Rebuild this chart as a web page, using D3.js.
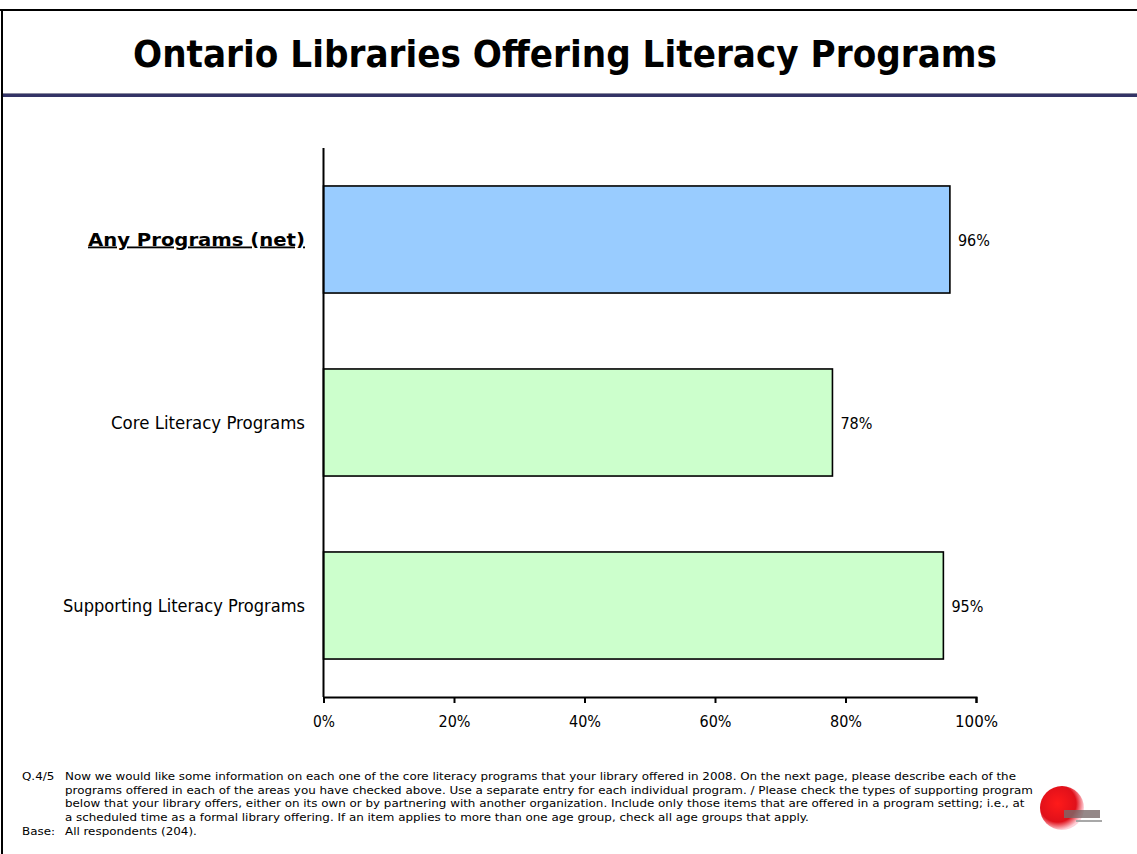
<!DOCTYPE html>
<html>
<head>
<meta charset="utf-8">
<script src="https://cdn.jsdelivr.net/npm/d3@7/dist/d3.min.js"></script>
<style>
  html, body { margin: 0; padding: 0; background: #ffffff; }
  svg { display: block; }
  text { font-family: "DejaVu Sans Condensed", "DejaVu Sans", Tahoma, sans-serif; fill: #000; }
</style>
</head>
<body>
<script>
const titleText = "Ontario Libraries Offering Literacy Programs";
const categories = ["Any Programs (net)", "Core Literacy Programs", "Supporting Literacy Programs"];
const values = [96, 78, 95];
const barColors = ["#99CCFF", "#CCFFCC", "#CCFFCC"];
const boldCategory = [true, false, false];
const tickValues = [0, 20, 40, 60, 80, 100];
const footLabel = "Q.4/5";
const footLines = [
  "Now we would like some information on each one of the core literacy programs that your library offered in 2008.  On the next page, please describe each of the",
  "programs offered in each of the areas you have checked above.  Use a separate entry for each individual program. / Please check the types of supporting program",
  "below that your library offers, either on its own or by partnering with another organization.  Include only those items that are offered in a program setting; i.e., at",
  "a scheduled time as a formal library offering.  If an item applies to more than one age group, check all age groups that apply."
];
const baseLabel = "Base:";
const baseText = "All respondents (204).";

const W = 1137, H = 854;
const svg = d3.select("body").append("svg").attr("width", W).attr("height", H);

function squeeze(sel, target) {
  sel.attr("textLength", target).attr("lengthAdjust", "spacingAndGlyphs");
}

// frame
svg.append("line").attr("x1", 0).attr("x2", W).attr("y1", 10).attr("y2", 10)
  .attr("stroke", "#000").attr("stroke-width", 2);
svg.append("line").attr("x1", 2).attr("x2", 2).attr("y1", 9).attr("y2", H)
  .attr("stroke", "#000").attr("stroke-width", 2);
svg.append("rect").attr("x", 3).attr("y", 93).attr("width", W - 3).attr("height", 1).attr("fill", "#8a8aa0");
svg.append("rect").attr("x", 3).attr("y", 94).attr("width", W - 3).attr("height", 3).attr("fill", "#333366");

// title
const title = svg.append("text").text(titleText)
  .attr("x", 133).attr("y", 67)
  .attr("font-weight", "bold").attr("font-size", 38);
squeeze(title, 864);

// chart
const x0 = 323.5, x1 = 976, yTop = 148, yBot = 697;
const x = d3.scaleLinear().domain([0, 100]).range([x0, x1]);
const y = d3.scaleBand().domain(categories).range([yTop, yBot]).paddingInner(0.415).paddingOuter(0.2075);

const g = svg.append("g");
g.selectAll("rect.bar").data(categories).join("rect").attr("class", "bar")
  .attr("x", x(0)).attr("y", d => y(d))
  .attr("width", (d, i) => x(values[i]) - x(0))
  .attr("height", y.bandwidth())
  .attr("fill", (d, i) => barColors[i])
  .attr("stroke", "#000").attr("stroke-width", 1.6);

// value labels
g.selectAll("text.val").data(categories).join("text").attr("class", "val")
  .attr("x", (d, i) => x(values[i]) + 8)
  .attr("y", d => y(d) + y.bandwidth() / 2 + 6)
  .attr("font-size", 15)
  .attr("textLength", 32).attr("lengthAdjust", "spacingAndGlyphs")
  .text((d, i) => values[i] + "%");

// category labels
const catW = [217, 194, 242];
categories.forEach((c, i) => {
  const t = g.append("text").text(c)
    .attr("x", 305 - catW[i]).attr("y", y(c) + y.bandwidth() / 2 + 6)
    .attr("font-size", boldCategory[i] ? 18 : 17)
    .attr("font-weight", boldCategory[i] ? "bold" : "normal")
    .attr("text-decoration", boldCategory[i] ? "underline" : null);
  squeeze(t, catW[i]);
});

// y axis line
g.append("line").attr("x1", x0).attr("x2", x0).attr("y1", yTop).attr("y2", yBot)
  .attr("stroke", "#000").attr("stroke-width", 2);

// x axis
const xAxis = d3.axisBottom(x).tickValues(tickValues).tickFormat(d => d + "%").tickSize(6).tickPadding(13);
const ax = svg.append("g").attr("transform", `translate(0,${yBot})`).call(xAxis);
ax.select(".domain").attr("stroke", "#000").attr("stroke-width", 2);
ax.selectAll(".tick line").attr("stroke", "#000").attr("stroke-width", 2);
ax.selectAll(".tick text").attr("font-size", 16)
  .attr("font-family", "\"DejaVu Sans Condensed\", \"DejaVu Sans\", sans-serif").attr("fill", "#000")
  .each(function(d) { d3.select(this).attr("textLength", d === 100 ? 43 : (d === 0 ? 22 : 32)).attr("lengthAdjust", "spacingAndGlyphs"); });

// footnote
const fy = [780, 793.7, 807.4, 821.1, 834.8];
const fs = 11;
const first = svg.append("text").text(footLines[0]).attr("x", 65).attr("y", fy[0]).attr("font-size", fs);
const k = 951 / first.node().getComputedTextLength();
squeeze(first, 951);
function foot(txt, xx, yy) {
  const t = svg.append("text").text(txt).attr("x", xx).attr("y", yy).attr("font-size", fs);
  squeeze(t, t.node().getComputedTextLength() * k);
  return t;
}
footLines.forEach((l, i) => { if (i > 0) foot(l, 65, fy[i]); });
foot(footLabel, 22, fy[0]);
foot(baseLabel, 22, fy[4]);
foot(baseText, 65, fy[4]);

// logo
const defs = svg.append("defs");
const rg = defs.append("radialGradient").attr("id", "lg").attr("cx", "40%").attr("cy", "40%").attr("r", "60%");
rg.append("stop").attr("offset", "0%").attr("stop-color", "#ff1a1a");
rg.append("stop").attr("offset", "70%").attr("stop-color", "#e0101a");
rg.append("stop").attr("offset", "100%").attr("stop-color", "#ffd0d8");
svg.append("circle").attr("cx", 1062).attr("cy", 808).attr("r", 22).attr("fill", "url(#lg)");
svg.append("rect").attr("x", 1064).attr("y", 810).attr("width", 36).attr("height", 8).attr("fill", "#7a6a6a").attr("opacity", 0.8);
svg.append("rect").attr("x", 1076).attr("y", 820).attr("width", 26).attr("height", 2).attr("fill", "#a8a8a8");
</script>
</body>
</html>
